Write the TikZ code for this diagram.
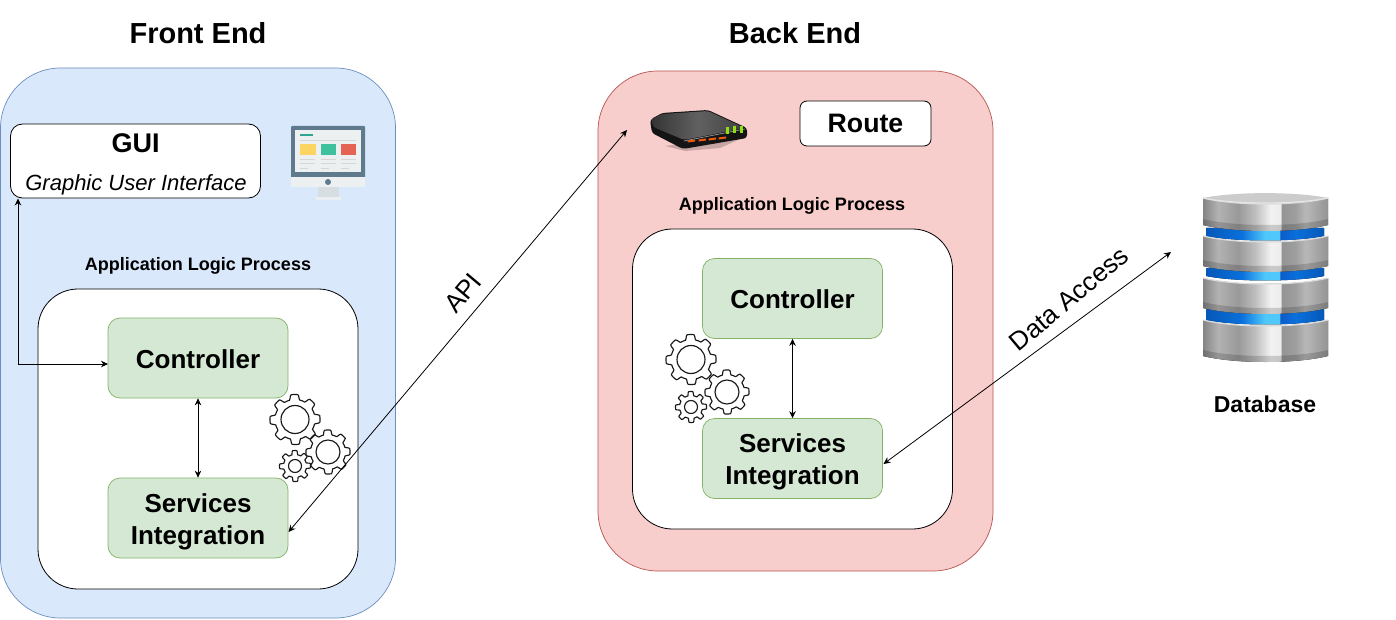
\documentclass[tikz,border=0pt]{standalone}
\usepackage{fontspec}
\setmainfont{Liberation Sans}
\usetikzlibrary{arrows.meta,calc}
\definecolor{feFill}{HTML}{DAE8FC}\definecolor{feLine}{HTML}{6C8EBF}
\definecolor{beFill}{HTML}{F8CECC}\definecolor{beLine}{HTML}{B85450}
\definecolor{grFill}{HTML}{D5E8D4}\definecolor{grLine}{HTML}{82B366}
\definecolor{monDark}{HTML}{5F7A8C}\definecolor{monLight}{HTML}{ECF0F1}
\definecolor{monTeal}{HTML}{2FA58E}\definecolor{monYellow}{HTML}{FCD462}
\definecolor{monGreen}{HTML}{3FC1A0}\definecolor{monRed}{HTML}{E56353}
\definecolor{rtOrange}{HTML}{F05A10}\definecolor{rtGreen}{HTML}{8FE010}
\definecolor{dbBlueD}{HTML}{0558B8}\definecolor{dbBlueM}{HTML}{0A70DC}
\definecolor{dbBlueL}{HTML}{50C8FA}\definecolor{dbBlueN}{HTML}{0C5CC8}
\pgfdeclarehorizontalshading{dbmetal}{100bp}{
 color(0bp)=(white!52!black); color(25bp)=(white!52!black); color(31bp)=(white!70!black);
 color(39bp)=(white!60!black); color(46bp)=(white!75!black); color(52bp)=(white!95!black);
 color(56bp)=(white!93!black); color(56.5bp)=(white!58!black); color(62bp)=(white!62!black);
 color(66bp)=(white!72!black); color(75bp)=(white!58!black); color(100bp)=(white!58!black)}
\pgfdeclarehorizontalshading{dbblue}{100bp}{
 color(0bp)=(dbBlueD); color(25bp)=(dbBlueD);
 color(40bp)=(dbBlueM); color(50bp)=(dbBlueL);
 color(56bp)=(dbBlueL); color(56.5bp)=(dbBlueN);
 color(63bp)=(dbBlueM); color(75bp)=(dbBlueD); color(100bp)=(dbBlueD)}
\newcommand{\pxfont}[2]{\fontsize{#1}{#2}\selectfont}
\newcommand{\gearicon}[6]{% x,y,outer,root,hole,teeth
 \draw[gearline,shift={(#1,#2)}] plot[domain=0:360,samples=161,smooth cycle] (\x:{#4+(#3-#4)*max(0,min(1,0.5+1.5*cos(#6*\x+10)))});
 \draw[gearline,shift={(#1,#2)}] (0,0) circle[radius=#5];}
\newcommand{\dbsection}[2]{% top y, bottom y
 \fill[shading=dbmetal] (1203,#1) .. controls (1235,{#1+8}) and (1296,{#1+8}) .. (1328,#1) -- (1328,{#2-5}) .. controls (1296,{#2+3}) and (1235,{#2+3}) .. (1203,{#2-5}) -- cycle;
 \fill[black,opacity=0.16] (1203,{#2-11}) .. controls (1235,{#2-3}) and (1296,{#2-3}) .. (1328,{#2-11}) -- (1328,{#2-5}) .. controls (1296,{#2+3}) and (1235,{#2+3}) .. (1203,{#2-5}) -- cycle;
 \draw[white!86!black,line width=1.2] (1203,#1) .. controls (1235,{#1+8}) and (1296,{#1+8}) .. (1328,#1);}
\newcommand{\dbband}[2]{%
 \fill[shading=dbblue] (1206,#1) -- (1324,#1) -- (1324,{#2-5}) .. controls (1296,{#2+1}) and (1235,{#2+1}) .. (1206,{#2-5}) -- cycle;}
\tikzset{
 panel/.style={draw,line width=0.7,inner sep=0pt},
 greenbox/.style={draw=grLine,fill=grFill,line width=0.7,rounded corners=12pt,minimum width=180pt,minimum height=80pt,inner sep=0pt},
 boxtext/.style={inner sep=0pt,align=center,font=\bfseries\pxfont{26}{32}},
 whitebox/.style={draw=black,fill=white,line width=0.8,inner sep=0pt,align=center},
 caption/.style={font=\bfseries\pxfont{29}{32},inner sep=0pt},
 applabel/.style={font=\bfseries\pxfont{18}{20},inner sep=0pt},
 linklabel/.style={font=\pxfont{26}{30},inner sep=0pt},
 link/.style={draw=black,line width=0.8,{Stealth[length=7pt,width=6.5pt]}-{Stealth[length=7pt,width=6.5pt]}},
 gearline/.style={draw=black!90,line width=1.15,line join=round}
}
\begin{document}
\begin{tikzpicture}[x=1pt,y=-1pt]
\useasboundingbox (0,0) rectangle (1396,620);
\fill[white] (0,0) rectangle (1396,620);
% titles
\node[caption] (titleF) at (198,33) {Front End};
\node[caption] (titleB) at (795,33) {Back End};
% panels
\node[panel,draw=feLine,fill=feFill,rounded corners=60pt,minimum width=395pt,minimum height=550pt] (front) at (198,343) {};
\node[panel,draw=beLine,fill=beFill,rounded corners=60pt,minimum width=395pt,minimum height=500pt] (back) at (795.5,321) {};
% GUI
\node[whitebox,rounded corners=12pt,minimum width=250pt,minimum height=74pt] (gui) at (135.5,161) {};
\node[font=\bfseries\pxfont{27}{30},inner sep=0pt] (guiT) at (135.5,143) {GUI};
\node[font=\itshape\pxfont{22}{24},inner sep=0pt] (guiS) at (136,185) {Graphic User Interface};
% monitor icon
\fill[monDark,rounded corners=1pt] (291,126) rectangle (365,178);
\fill[monLight] (295,130) rectangle (361,172);
\fill[monLight] (291,177) rectangle (365,187);
\fill[white!75!monDark] (318,187) rectangle (339,197);
\fill[white!88!monDark] (316,197) rectangle (341,200);
\fill[monDark] (328,182) circle[radius=3];
\fill[monTeal] (300,134) rectangle (313,136);
\fill[black!16] (300,140) rectangle (356,141.2);
\fill[monYellow] (300,144) rectangle (316,155);
\fill[monGreen] (321,144) rectangle (336,155);
\fill[monRed] (341,144) rectangle (356,155);
\foreach \cx in {300,321,341}{
 \fill[black!16] (\cx,159) rectangle +(15,1);
 \fill[black!16] (\cx,163.5) rectangle +(15,1);
 \fill[black!16] (\cx,168) rectangle +(8,1);}
% inner white panels
\node[applabel] (appF) at (198,266) {Application Logic Process};
\node[whitebox,rounded corners=40pt,minimum width=320pt,minimum height=300pt] (innerF) at (198,439) {};
\node[applabel] (appB) at (792,206) {Application Logic Process};
\node[whitebox,rounded corners=40pt,minimum width=320pt,minimum height=300pt] (innerB) at (792.5,379) {};
% green boxes
\node[greenbox] (ctrlF) at (198,358) {};
\node[boxtext] (ctrlFt) at (198,359) {Controller};
\node[greenbox] (svcF) at (198,518) {};
\node[boxtext] (svcFt) at (198,522) {Services\\Integration};
\node[greenbox] (ctrlB) at (792.5,298.5) {};
\node[boxtext] (ctrlBt) at (792.5,299.5) {Controller};
\node[greenbox] (svcB) at (792.5,458.5) {};
\node[boxtext] (svcBt) at (792.5,462) {Services\\Integration};
% route
\node[whitebox,rounded corners=7pt,minimum width=131pt,minimum height=45pt,font=\bfseries\pxfont{26.7}{30}] (route) at (865.5,123.5) {Route};
% gears
\gearicon{295}{419.5}{25}{20}{14}{8}
\gearicon{328}{452}{22}{17.5}{12}{8}
\gearicon{295}{466}{15.5}{11.5}{6.5}{8}
\gearicon{691}{359.5}{25}{20}{14}{8}
\gearicon{727}{392}{22}{17.5}{12}{8}
\gearicon{691}{407}{15.5}{11.5}{6.5}{8}
% router icon
\fill[black!20!beFill] (665,146) -- (747,136) -- (720,148) -- (685,151) -- cycle;
\fill[black!92,rounded corners=3pt] (650,120) -- (662,113) -- (708,110) -- (747,128) -- (747,138) -- (683,149) -- (652,133) -- cycle;
\fill[left color=black!80,right color=black!75,middle color=black!62,rounded corners=3pt] (651,119) -- (662,114) -- (708,111) -- (745,128) -- (684,140) -- (653,127) -- cycle;
\draw[black!45,line width=0.8] (684,141) -- (745,129);
\foreach \dx/\dy in {0/0,11/-1,21/-2,31/-3}{
 \fill[rtOrange,shift={(\dx,\dy)}] (687.5,140.5) -- (695,139.5) -- (695,141.5) -- (687.5,142.5) -- cycle;}
\foreach \dx/\dy in {0/0,7/-0.7,14/-1.4}{
 \fill[rtGreen,shift={(\dx,\dy)}] (725.5,127) rectangle (728.5,134);}
% database icon
\dbband{228}{241}
\dbband{268}{281}
\dbband{309}{325}
\dbsection{320}{361}
\dbsection{278}{313}
\dbsection{236}{271}
\dbsection{198}{230}
\fill[white!80!black] (1203,198) .. controls (1235,191.5) and (1296,191.5) .. (1328,198) .. controls (1296,204.5) and (1235,204.5) .. (1203,198) -- cycle;
\draw[white!90!black,line width=1] (1203,198) .. controls (1235,204.5) and (1296,204.5) .. (1328,198);
\node[font=\bfseries\pxfont{23}{24},inner sep=0pt] (dbT) at (1265,404) {Database};
% free connector ends
\coordinate (guiEnd) at (18,198.5);
\coordinate (elbow) at (18,364);
\coordinate (ctrlIn) at (108,364);
\coordinate (apiS) at (288.5,532);
\coordinate (apiE) at (627,130);
\coordinate (dbS) at (883.5,464);
\coordinate (dbE) at (1171,252);
% connectors
\draw[link] (guiEnd) -- (elbow) -- (ctrlIn);
\draw[link] (ctrlF.south) -- (svcF.north);
\draw[link] (ctrlB.south) -- (svcB.north);
\draw[link] (apiS) -- (apiE);
\draw[link] (dbS) -- (dbE);
% connector labels
\node[linklabel,rotate=50] (apiL) at (463,293) {API};
\node[linklabel,rotate=40] (daL) at (1069,299) {Data Access};
\end{tikzpicture}
\end{document}
